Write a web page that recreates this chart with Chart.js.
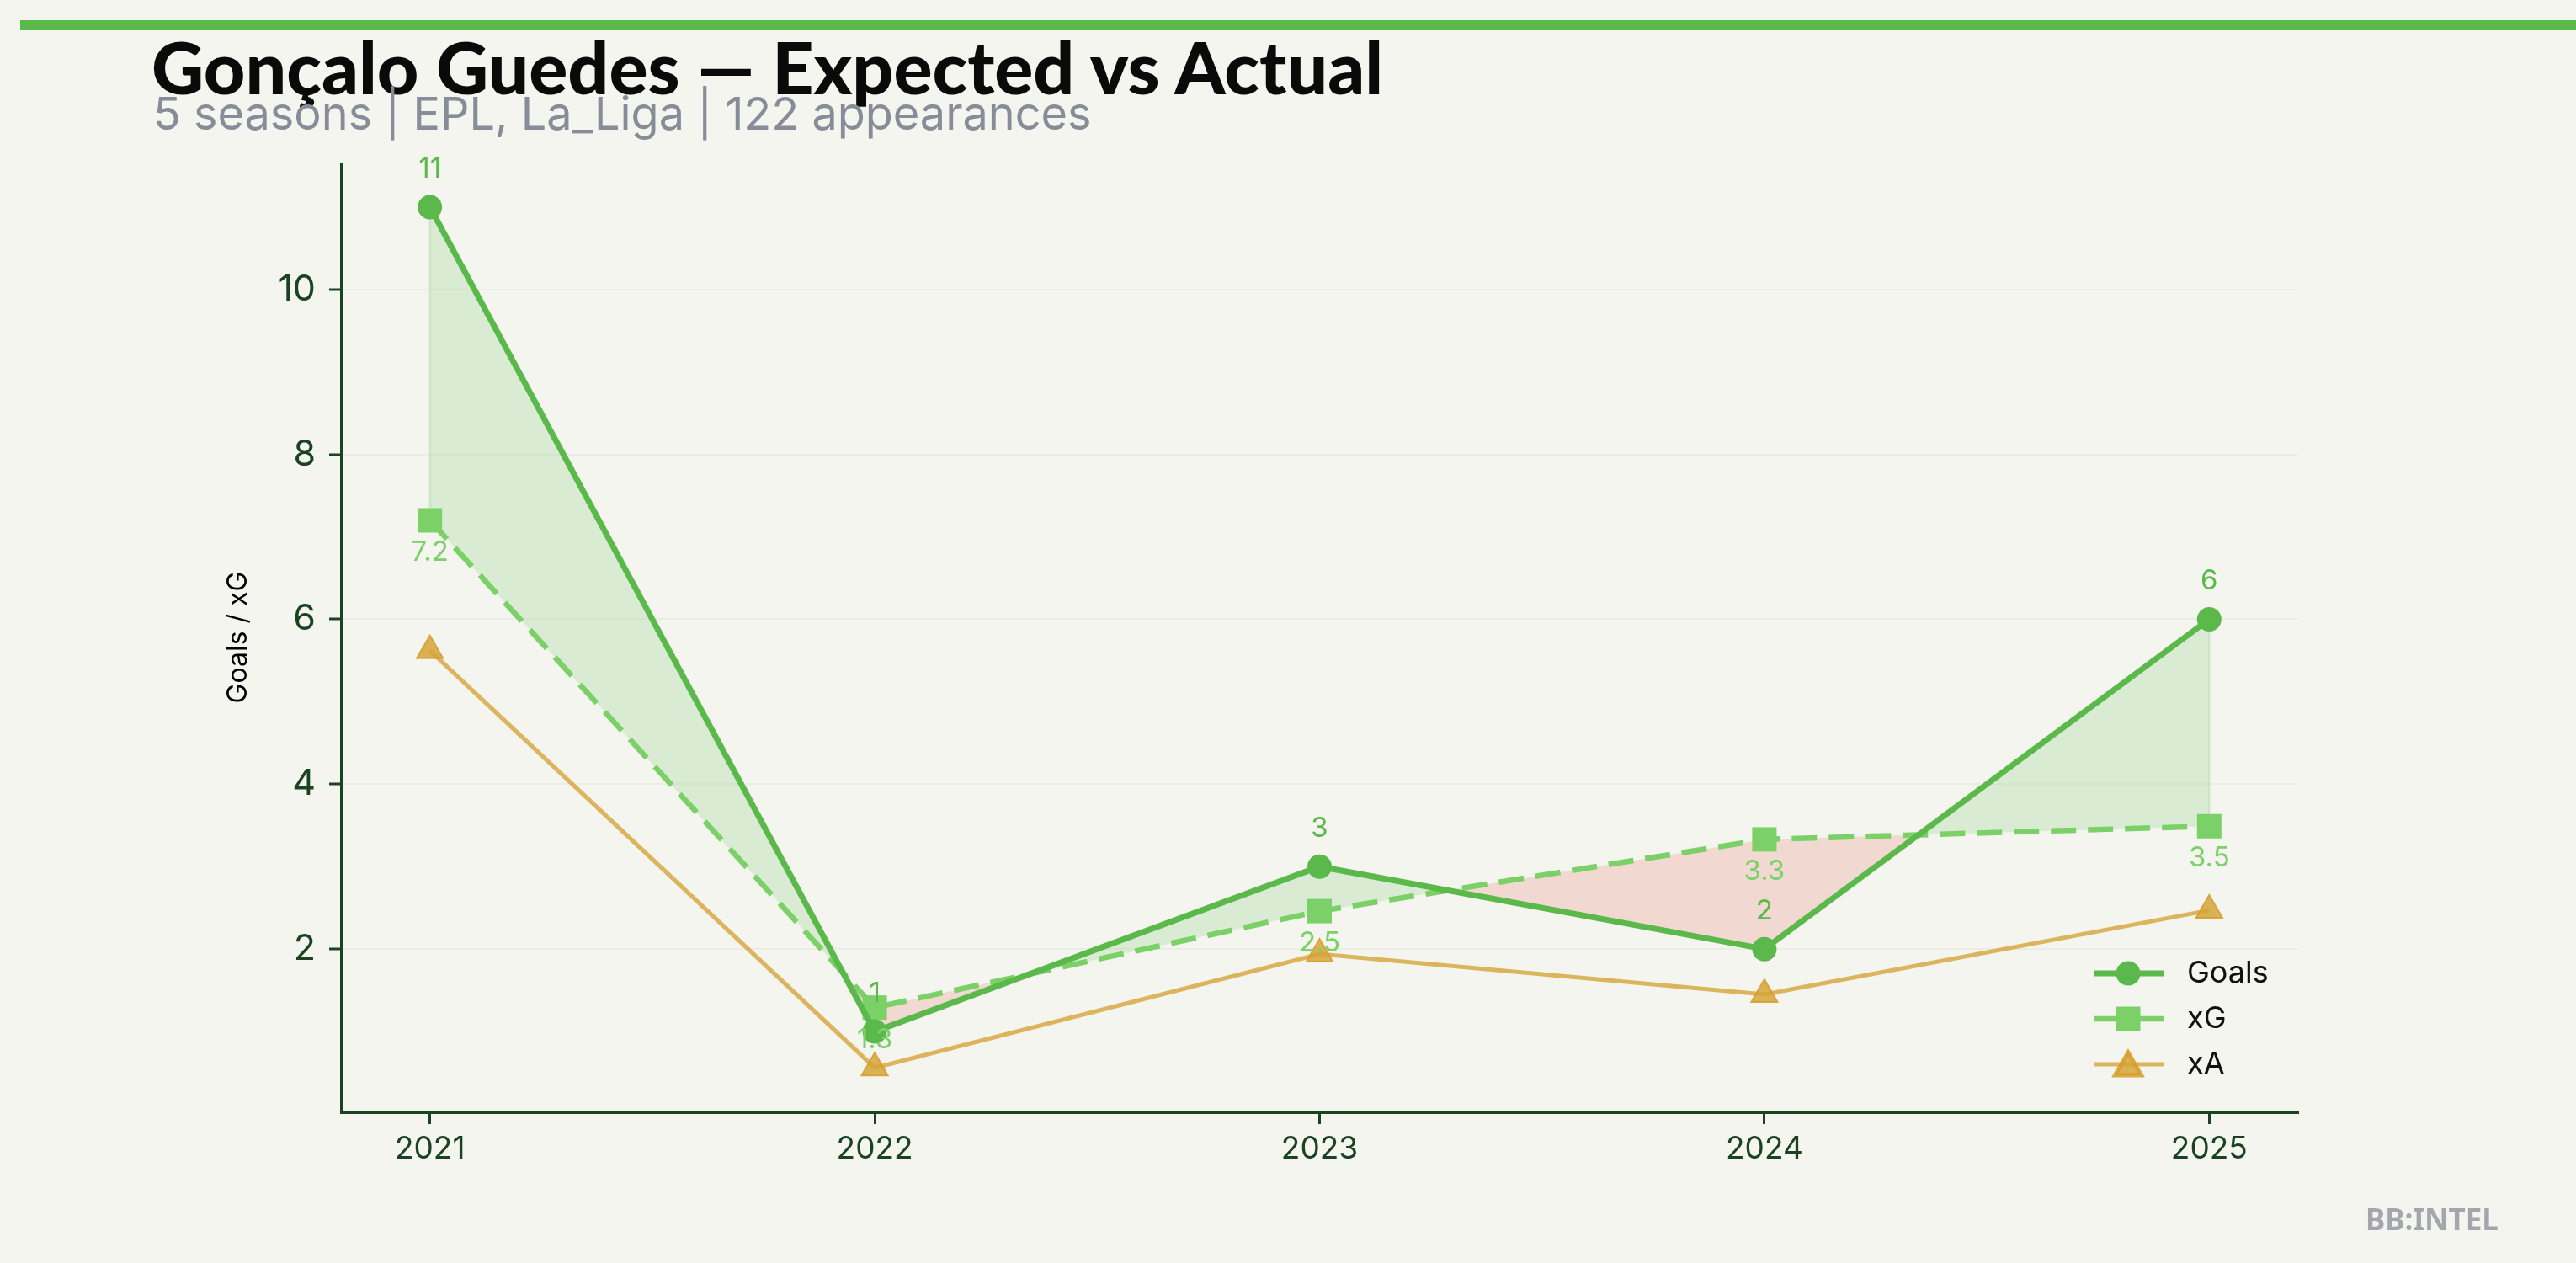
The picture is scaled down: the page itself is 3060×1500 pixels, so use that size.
<!DOCTYPE html>
<html>
<head>
<meta charset="UTF-8">
<title>Gonçalo Guedes — Expected vs Actual</title>
<script src="https://cdn.jsdelivr.net/npm/chart.js"></script>
<style>
  html, body { margin: 0; padding: 0; background: #f4f5ef; }
  #wrap { position: relative; width: 3060px; height: 1500px; overflow: hidden; }
  #bar { position: absolute; left: 24px; top: 24px; width: 3036px; height: 12px; background: #5ab94a; }
  #title { position: absolute; left: 180px; top: 36px; font: 900 86px Lato, sans-serif; color: #0a0a0a; line-height: 1; white-space: nowrap; }
  #subtitle { position: absolute; left: 182px; top: 108px; font: 400 54px Inter, sans-serif; color: #878d98; line-height: 1; white-space: nowrap; }
  #mark { position: absolute; left: 2810px; top: 1430px; font: 700 35px "Noto Sans", sans-serif; color: #a3a6ad; line-height: 1; }
  canvas { position: absolute; left: 0; top: 0; }
</style>
</head>
<body>
<div id="wrap">
  <div id="bar"></div>
  <canvas id="chart" width="3060" height="1500"></canvas>
  <div id="title">Gonçalo Guedes — Expected vs Actual</div>
  <div id="subtitle">5 seasons | EPL, La_Liga | 122 appearances</div>
  <div id="mark">BB:INTEL</div>
</div>
<script>
// data
var seasons = [2021, 2022, 2023, 2024, 2025];
var goals = [11, 1, 3, 2, 6];
var xG = [7.2, 1.29, 2.46, 3.33, 3.49];
var xA = [5.62, 0.56, 1.94, 1.45, 2.47];
var yTicks = [2, 4, 6, 8, 10];
var seriesNames = ['Goals', 'xG', 'xA'];

var GREEN = '#5ab94a';
var LIGHT = '#7bd068';
var GOLD = 'rgba(214,162,52,0.82)';
var AXIS = '#1b4322';

function pts(arr) {
  return seasons.map(function (s, i) { return { x: s, y: arr[i] }; });
}

// faint edges of the shaded band at both ends
var bandEdges = {
  id: 'bandEdges',
  beforeDatasetsDraw: function (chart) {
    var a = chart.getDatasetMeta(0).data, b = chart.getDatasetMeta(1).data;
    var ctx = chart.ctx;
    ctx.save();
    ctx.strokeStyle = 'rgba(90,185,74,0.16)';
    ctx.lineWidth = 3;
    [0, a.length - 1].forEach(function (i) {
      ctx.beginPath();
      ctx.moveTo(a[i].x, a[i].y);
      ctx.lineTo(b[i].x, b[i].y);
      ctx.stroke();
    });
    ctx.restore();
  }
};

// value labels above Goals, below xG
var valueLabels = {
  id: 'valueLabels',
  afterDatasetsDraw: function (chart) {
    var ctx = chart.ctx;
    ctx.save();
    ctx.font = '33px Inter, sans-serif';
    ctx.textAlign = 'center';
    ctx.textBaseline = 'middle';
    chart.getDatasetMeta(0).data.forEach(function (p, i) {
      ctx.fillStyle = GREEN;
      ctx.fillText(String(goals[i]), p.x, p.y - 45);
    });
    chart.getDatasetMeta(1).data.forEach(function (p, i) {
      ctx.fillStyle = LIGHT;
      ctx.fillText(xG[i].toFixed(1), p.x, p.y + 38);
    });
    ctx.restore();
  }
};

// legend inside the plot, lower right, plus rotated y title
var extras = {
  id: 'extras',
  afterDraw: function (chart) {
    var ctx = chart.ctx;
    ctx.save();
    ctx.font = '32px Inter, sans-serif';
    ctx.fillStyle = '#000';
    ctx.textAlign = 'center';
    ctx.textBaseline = 'middle';
    ctx.translate(283, 757);
    ctx.rotate(-Math.PI / 2);
    ctx.fillText('Goals / xG', 0, 0);
    ctx.restore();

    var rows = [1156, 1210, 1264];
    chart.data.datasets.forEach(function (ds, i) {
      var y = rows[i];
      ctx.save();
      ctx.strokeStyle = ds.borderColor;
      ctx.lineWidth = ds.borderWidth;
      ctx.beginPath();
      ctx.moveTo(2487, y);
      ctx.lineTo(2570, y);
      ctx.stroke();
      ctx.fillStyle = ds.pointBackgroundColor;
      ctx.strokeStyle = ds.pointBorderColor;
      Chart.helpers.drawPoint(ctx, {
        pointStyle: ds.pointStyle,
        radius: ds.pointRadius,
        rotation: 0,
        borderWidth: ds.pointBorderWidth
      }, 2528, y + (ds.pointStyle === 'triangle' ? 4 : 0));
      ctx.fillStyle = '#111';
      ctx.font = '36px Inter, sans-serif';
      ctx.textAlign = 'left';
      ctx.textBaseline = 'middle';
      ctx.fillText(seriesNames[i], 2598, y);
      ctx.restore();
    });
  }
};

var ctx = document.getElementById('chart').getContext('2d');
var chart = new Chart(ctx, {
  type: 'line',
  data: {
    datasets: [{
      label: seriesNames[0],
      data: pts(goals),
      borderColor: GREEN,
      borderWidth: 7,
      pointStyle: 'circle',
      pointRadius: 14.5,
      pointBackgroundColor: GREEN,
      pointBorderColor: GREEN,
      pointBorderWidth: 0,
      fill: { target: 1, above: 'rgba(90,185,74,0.16)', below: 'rgba(231,76,60,0.16)' }
    }, {
      label: seriesNames[1],
      data: pts(xG),
      borderColor: LIGHT,
      borderWidth: 6.5,
      borderDash: [30, 14],
      pointStyle: 'rect',
      pointRadius: 20.5,
      pointBackgroundColor: LIGHT,
      pointBorderColor: LIGHT,
      pointBorderWidth: 0,
      fill: false
    }, {
      label: seriesNames[2],
      data: pts(xA),
      borderColor: 'rgba(214,162,52,0.78)',
      borderWidth: 5,
      pointStyle: 'triangle',
      pointRadius: 18,
      pointBackgroundColor: GOLD,
      pointBorderColor: 'rgba(214,156,40,0.85)',
      pointBorderWidth: 2,
      fill: false
    }]
  },
  options: {
    responsive: false,
    animation: false,
    devicePixelRatio: 1,
    layout: { padding: { top: 195, right: 330, left: 0, bottom: 0 } },
    elements: { line: { tension: 0 } },
    plugins: {
      legend: { display: false },
      tooltip: { enabled: false },
      filler: { drawTime: 'beforeDatasetsDraw' }
    },
    scales: {
      x: {
        type: 'linear',
        min: 2020.8,
        max: 2025.2,
        afterBuildTicks: function (s) { s.ticks = seasons.map(function (v) { return { value: v }; }); },
        afterFit: function (s) { s.height = 179; },
        ticks: {
          color: AXIS,
          font: { family: 'Inter, sans-serif', size: 37 },
          padding: 8,
          callback: function (v) { return String(v); }
        },
        grid: { drawOnChartArea: false, drawTicks: true, tickLength: 14, tickWidth: 3, tickColor: AXIS },
        border: { color: AXIS, width: 3 }
      },
      y: {
        type: 'linear',
        min: 0.02,
        max: 11.52,
        afterBuildTicks: function (s) { s.ticks = yTicks.map(function (v) { return { value: v }; }); },
        afterFit: function (s) { s.width = 405; },
        ticks: {
          color: AXIS,
          font: { family: 'Inter, sans-serif', size: 43 },
          padding: 16
        },
        grid: { color: '#ebede4', lineWidth: 2, drawTicks: true, tickLength: 14, tickWidth: 3, tickColor: AXIS },
        border: { color: AXIS, width: 3 }
      }
    }
  },
  plugins: [bandEdges, valueLabels, extras]
});
</script>
</body>
</html>
